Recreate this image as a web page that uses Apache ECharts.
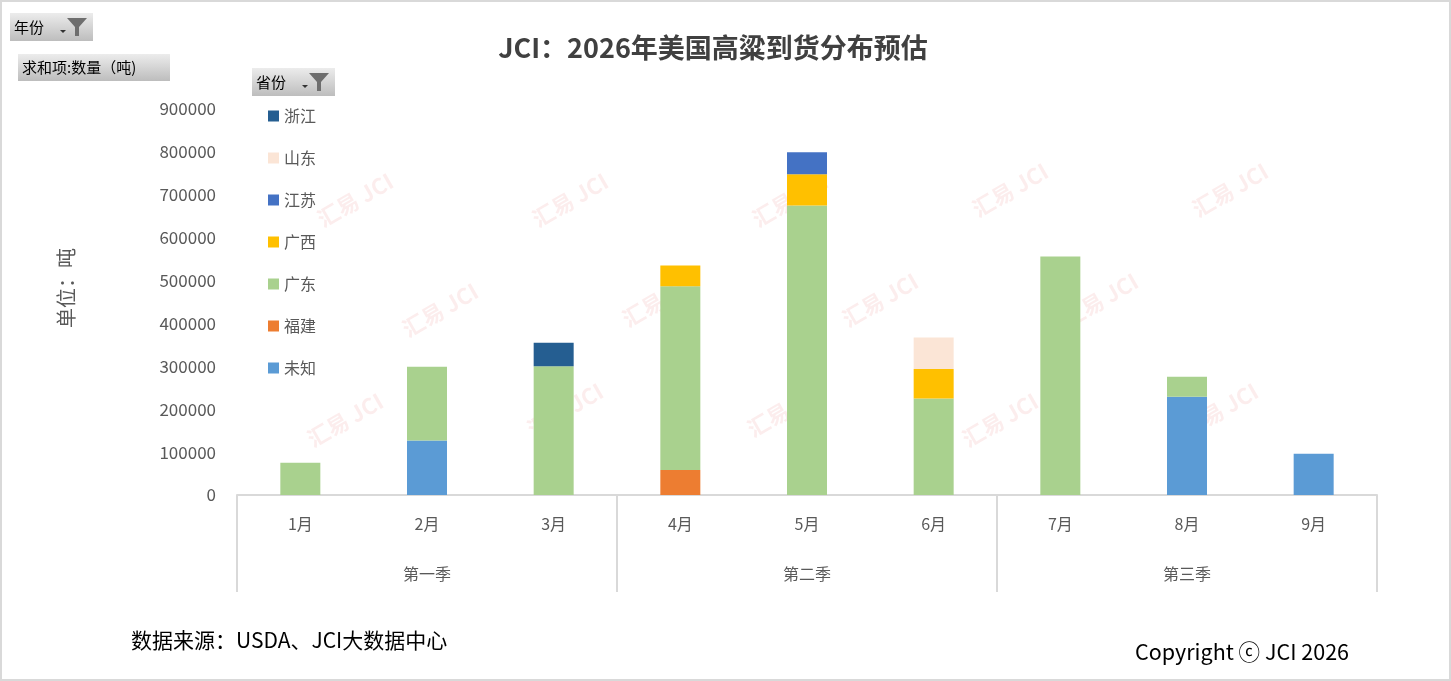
<!DOCTYPE html>
<html>
<head>
    <meta charset="utf-8">
    <title>JCI：2026年美国高粱到货分布预估</title>
    <style>
        html, body { margin: 0; padding: 0; background: #fff; }
    </style>
</head>
<body>
<div id="main" style="width: 1451px;height:681px;"></div>

<script src="https://cdn.jsdelivr.net/npm/echarts@6/dist/echarts.min.js"></script>
<script>
    // 横轴：月份 + 季度
    var months = ['1月', '2月', '3月', '4月', '5月', '6月', '7月', '8月', '9月'];
    var quarters = ['第一季', '第二季', '第三季'];
    var yTicks = [0, 100000, 200000, 300000, 400000, 500000, 600000, 700000, 800000, 900000];

    // 各省份数量（吨），从下往上堆叠
    var weizhi    = [null, 127000, null, null, null, null, null, 229000, 96000];   // 未知
    var fujian    = [null, null, null, 58000, null, null, null, null, null];        // 福建
    var guangdong = [75000, 172000, 300000, 429000, 675000, 225000, 556000, 47000, null]; // 广东
    var guangxi   = [null, null, null, 48000, 73000, 69000, null, null, null];     // 广西
    var jiangsu   = [null, null, null, null, 51000, null, null, null, null];       // 江苏
    var shandong  = [null, null, null, null, null, 73000, null, null, null];       // 山东
    var zhejiang  = [null, null, 55000, null, null, null, null, null, null];       // 浙江

    var provinces = ['未知', '福建', '广东', '广西', '江苏', '山东', '浙江'];
    var values = [weizhi, fujian, guangdong, guangxi, jiangsu, shandong, zhejiang];
    var colors = ['#5B9BD5', '#ED7D31', '#A9D18E', '#FFC000', '#4472C4', '#FBE5D6', '#255E91'];

    var font = '"Noto Sans CJK SC", "Microsoft YaHei", sans-serif';

    var series = provinces.map(function (name, i) {
        return {
            name: name,
            type: 'bar',
            stack: 'total',
            barWidth: 40,
            xAxisIndex: 0,
            itemStyle: { color: colors[i] },
            data: values[i]
        };
    });

    // 筛选按钮（仿数据透视图）
    function filterButton(x, y, w, h, label, withFunnel) {
        var children = [
            {
                type: 'rect',
                shape: { x: x, y: y, width: w, height: h },
                style: {
                    fill: new echarts.graphic.LinearGradient(0, 0, 0, 1, [
                        { offset: 0, color: '#ececec' },
                        { offset: 1, color: '#bdbdbd' }
                    ])
                }
            },
            {
                type: 'text',
                style: {
                    x: x + 4, y: y + h / 2, text: label,
                    fill: '#000', font: '15px ' + font, verticalAlign: 'middle'
                }
            }
        ];
        if (withFunnel) {
            var fx = x + w - 26, fy = y + 5;
            children.push({
                type: 'polygon',
                shape: { points: [[fx, fy], [fx + 20, fy], [fx + 12, fy + 9], [fx + 12, fy + 18], [fx + 8, fy + 18], [fx + 8, fy + 9]] },
                style: { fill: '#6e6e6e' }
            });
            children.push({
                type: 'polygon',
                shape: { points: [[fx - 7, fy + 12], [fx - 1, fy + 12], [fx - 4, fy + 15]] },
                style: { fill: '#333' }
            });
        }
        return { type: 'group', children: children };
    }

    // 水印
    var marks = [];
    var markPos = [[355, 200], [570, 200], [790, 200], [1010, 190], [1230, 190],
                   [440, 310], [660, 300], [880, 300], [1100, 300],
                   [345, 420], [565, 410], [785, 410], [1000, 420], [1220, 410]];
    markPos.forEach(function (p) {
        marks.push({
            type: 'text',
            x: p[0], y: p[1],
            rotation: Math.PI / 6,
            style: {
                text: '汇易 JCI', fill: 'rgba(230, 110, 110, 0.12)',
                font: 'bold 22px ' + font, align: 'center', verticalAlign: 'middle'
            },
            z: -1
        });
    });

    var myChart = echarts.init(document.getElementById('main'));

    myChart.setOption({
        animation: false,
        backgroundColor: '#fff',
        title: {
            text: 'JCI：2026年美国高粱到货分布预估',
            left: 708,
            top: 29,
            textAlign: 'center',
            textStyle: { fontFamily: font, fontSize: 27, fontWeight: 'bold', color: '#404040' }
        },
        legend: {
            orient: 'vertical',
            left: 268,
            top: 108,
            padding: 0,
            itemWidth: 11,
            itemHeight: 11,
            itemGap: 26,
            icon: 'rect',
            data: ['浙江', '山东', '江苏', '广西', '广东', '福建', '未知'],
            textStyle: { fontFamily: font, fontSize: 16, color: '#595959' }
        },
        grid: { left: 237, right: 74, top: 109, bottom: 186, containLabel: false },
        xAxis: [
            {
                type: 'category',
                data: months,
                position: 'bottom',
                axisLine: { lineStyle: { color: '#d9d9d9', width: 2 } },
                axisTick: { show: false },
                axisLabel: { color: '#595959', fontFamily: font, fontSize: 16, margin: 21 },
                splitLine: { show: false }
            },
            {
                type: 'category',
                data: quarters,
                position: 'bottom',
                offset: 0,
                axisLine: { show: false },
                axisTick: { show: true, length: 97, lineStyle: { color: '#d9d9d9', width: 2 } },
                axisLabel: { color: '#595959', fontFamily: font, fontSize: 16, margin: 71 },
                splitLine: { show: false }
            }
        ],
        yAxis: {
            type: 'value',
            min: yTicks[0],
            max: yTicks[yTicks.length - 1],
            interval: 100000,
            axisLine: { show: false },
            axisTick: { show: false },
            splitLine: { show: false },
            axisLabel: {
                color: '#595959', fontFamily: font, fontSize: 17, margin: 21,
                formatter: function (v) { return String(v); }
            }
        },
        graphic: [
            {
                type: 'rect',
                shape: { x: 1, y: 1, width: 1449, height: 679 },
                style: { fill: null, stroke: '#d9d9d9', lineWidth: 2 },
                silent: true
            },
            filterButton(10, 13, 83, 28, '年份', true),
            filterButton(18, 54, 152, 27, '求和项:数量（吨)', false),
            filterButton(252, 68, 83, 28, '省份', true),
            {
                type: 'text',
                x: 66, y: 288,
                rotation: Math.PI / 2,
                style: {
                    text: '单位：吨', fill: '#595959', font: '20px ' + font,
                    align: 'center', verticalAlign: 'middle'
                }
            },
            {
                type: 'text',
                style: {
                    x: 131, y: 640, text: '数据来源：USDA、JCI大数据中心',
                    fill: '#000', font: '21px ' + font, verticalAlign: 'middle'
                }
            },
            {
                type: 'text',
                style: {
                    x: 1349, y: 652, text: 'Copyright ⓒ JCI 2026',
                    fill: '#000', font: '21.5px ' + font, align: 'right', verticalAlign: 'middle'
                }
            },
            { type: 'group', children: marks, silent: true }
        ],
        series: series
    });
</script>
</body>
</html>
